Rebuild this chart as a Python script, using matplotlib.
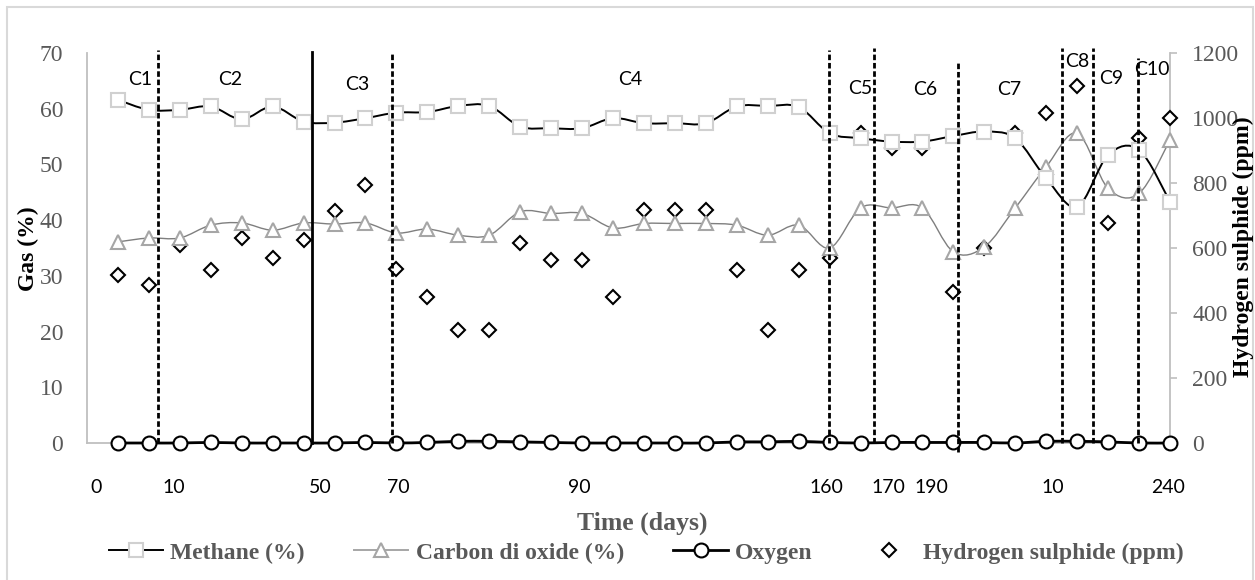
import matplotlib
matplotlib.use("Agg")
import matplotlib.pyplot as plt
import numpy as np
from matplotlib.lines import Line2D
from matplotlib.path import Path
from matplotlib.patches import PathPatch, Rectangle

# sampling points (category positions along the time axis)
samples = np.arange(1, 36)

methane = [61.6, 59.8, 59.8, 60.4, 58.1, 60.4, 57.7, 57.5, 58.3, 59.3,
           59.4, 60.5, 60.5, 56.8, 56.5, 56.5, 58.3, 57.4, 57.4, 57.4,
           60.4, 60.5, 60.3, 55.6, 54.7, 54.1, 54.1, 55.1, 55.9, 54.7,
           47.5, 42.4, 51.7, 52.6, 43.3]
co2 = [36.1, 36.8, 36.8, 39.1, 39.5, 38.2, 39.5, 39.3, 39.5, 37.7,
       38.4, 37.3, 37.3, 41.5, 41.2, 41.2, 38.6, 39.4, 39.4, 39.4,
       39.1, 37.3, 39.1, 35.0, 42.2, 42.2, 42.2, 34.3, 35.2, 42.2,
       49.6, 55.6, 45.7, 44.8, 54.4]
oxygen = [0, 0, 0, 0.1, 0, 0, 0, 0, 0.1, 0,
          0.1, 0.3, 0.3, 0.2, 0.1, 0, 0, 0, 0, 0,
          0.2, 0.2, 0.3, 0.1, 0, 0.1, 0.1, 0.1, 0.1, 0,
          0.3, 0.3, 0.2, 0, 0]
h2s = [517, 486, 609, 532, 631, 569, 625, 714, 794, 535,
       449, 348, 348, 615, 563, 563, 449, 717, 717, 717,
       532, 348, 532, 569, 954, 907, 907, 465, 600, 954,
       1015, 1098, 677, 938, 1000]

tick_labels = ["0", "10", "50", "70", "90", "160", "170", "190", "10", "240"]
cycle_names = ["C1", "C2", "C3", "C4", "C5", "C6", "C7", "C8", "C9", "C10"]

# layout: where the day labels, cycle boundaries and cycle names sit
tick_pos = [0.29, 2.8, 7.54, 10.06, 15.9, 23.9, 25.9, 27.3, 31.2, 34.95]
bound_x = [2.3, 7.28, 9.87, 23.98, 25.44, 28.16, 31.52, 32.52, 33.95]
bound_top = [70.5, 70.2, 70.2, 70.5, 70.9, 68.4, 70.9, 70.9, 69.1]
bound_bot = [0, 0, 0, 0, 0, -1.6, 0, 0, 0]
name_xy = [(1.72, 65.2), (4.63, 65.2), (8.74, 64.3), (17.57, 65.2),
           (25.0, 63.7), (27.1, 63.4), (29.8, 63.4), (32.0, 68.4),
           (33.1, 65.5), (34.4, 67.0)]

SERIF = "Liberation Serif"
SANS = "Lato"
GREY_TXT = "#595959"
AXIS_GREY = "#bfbfbf"


def smooth_path(x, y):
    """Excel-style smoothed line through the points (cubic Bezier)."""
    pts = np.column_stack([x, y]).astype(float)
    n = len(pts)
    verts = [pts[0]]
    codes = [Path.MOVETO]
    for i in range(n - 1):
        p0 = pts[i - 1] if i > 0 else pts[i]
        p1, p2 = pts[i], pts[i + 1]
        p3 = pts[i + 2] if i + 2 < n else pts[i + 1]
        verts += [p1 + (p2 - p0) / 6, p2 - (p3 - p1) / 6, p2]
        codes += [Path.CURVE4] * 3
    return Path(verts, codes)


fig = plt.figure(figsize=(12.55, 5.8), dpi=100)
ax = fig.add_axes([0.0693, 0.2362, 0.9323 - 0.0693, 0.9086 - 0.2362])
ax2 = ax.twinx()

# chart frame
fig.patches.append(Rectangle((7 / 1255, -0.05), 1246 / 1255, 1.05 - 7 / 580,
                             transform=fig.transFigure, fill=False,
                             edgecolor="#d9d9d9", lw=1.5))

ax.add_patch(PathPatch(smooth_path(samples, co2), fill=False,
                       edgecolor="#7f7f7f", lw=1.0, zorder=2, clip_on=False))
ax.plot(samples, co2, ls="none", marker="^", ms=10, mfc="white",
        mec="#a6a6a6", mew=1.5, zorder=3, clip_on=False)

ax.add_patch(PathPatch(smooth_path(samples, methane), fill=False,
                       edgecolor="black", lw=1.4, zorder=4, clip_on=False))
ax.plot(samples, methane, ls="none", marker="s", ms=9.5, mfc="white",
        mec="#d0d0d0", mew=1.5, zorder=5, clip_on=False)

ax.add_patch(PathPatch(smooth_path(samples, oxygen), fill=False,
                       edgecolor="black", lw=2.0, zorder=6, clip_on=False))
ax.plot(samples, oxygen, ls="none", marker="o", ms=10, mfc="white",
        mec="black", mew=1.5, zorder=7, clip_on=False)

ax2.plot(samples, h2s, ls="none", marker="D", ms=7.5, mfc="white",
         mec="black", mew=1.5, zorder=8, clip_on=False)

for i, (bx, top, bot) in enumerate(zip(bound_x, bound_top, bound_bot)):
    style = "-" if i == 1 else (0, (2, 1))
    ax.plot([bx, bx], [bot, top], color="black", lw=2.0, ls=style,
            zorder=9, clip_on=False)

for name, (nx, ny) in zip(cycle_names, name_xy):
    ax.text(nx, ny, name, ha="center", va="center", fontsize=14,
            family=SANS, color="black", zorder=10)

ax.set_xlim(0, 35)
ax.set_ylim(0, 70)
ax2.set_ylim(0, 1200)
ax.set_xticks(tick_pos)
ax.set_xticklabels(tick_labels, family=SANS, fontsize=14, color="black")
ax.set_yticks(np.arange(0, 71, 10))
ax.set_yticklabels([str(v) for v in range(0, 71, 10)], family=SERIF,
                   fontsize=17, color=GREY_TXT)
ax2.set_yticks(np.arange(0, 1201, 200))
ax2.set_yticklabels([str(v) for v in range(0, 1201, 200)], family=SERIF,
                    fontsize=17, color=GREY_TXT)
ax.tick_params(axis="x", length=0, pad=26)
ax.tick_params(axis="y", length=0, pad=17)
ax2.tick_params(axis="y", length=5, width=1.2, color=AXIS_GREY, pad=11)

for a in (ax, ax2):
    a.spines["top"].set_visible(False)
    for s in ("left", "bottom", "right"):
        a.spines[s].set_color(AXIS_GREY)
        a.spines[s].set_linewidth(1.3)
ax.spines["right"].set_visible(False)
ax2.spines["left"].set_visible(False)
ax2.spines["bottom"].set_visible(False)
ax.patch.set_visible(False)
ax.set_zorder(ax2.get_zorder() + 1)

fig.text(0.0223, 0.572, "Gas (%)", rotation=90, ha="center", va="center",
         family=SERIF, fontsize=17, fontweight="bold", color="black")
fig.text(0.9905, 0.574, "Hydrogen sulphide (ppm)", rotation=90, ha="center",
         va="center", family=SERIF, fontsize=17, fontweight="bold",
         color="black")
fig.text(0.512, 0.098, "Time (days)", ha="center", va="center",
         family=SERIF, fontsize=18.5, fontweight="bold", color=GREY_TXT)

handles = [
    Line2D([], [], color="black", lw=1.4, marker="s", ms=9.5, mfc="white",
           mec="#d0d0d0", mew=1.5),
    Line2D([], [], color="#a6a6a6", lw=1.4, marker="^", ms=10, mfc="white",
           mec="#a6a6a6", mew=1.5),
    Line2D([], [], color="black", lw=2.0, marker="o", ms=10, mfc="white",
           mec="black", mew=1.5),
    Line2D([], [], ls="none", marker="D", ms=7.5, mfc="white", mec="black",
           mew=1.5),
]
labels = ["Methane (%)", "Carbon di oxide (%)", "Oxygen",
          "Hydrogen sulphide (ppm)"]
leg = fig.legend(handles, labels, loc="center", bbox_to_anchor=(0.515, 0.0466),
                 ncol=4, frameon=False, handlelength=2.3, handletextpad=0.3,
                 columnspacing=2.1,
                 prop={"family": SERIF, "size": 17, "weight": "bold"})
for t in leg.get_texts():
    t.set_color(GREY_TXT)

fig.savefig("out.png", dpi=100)
